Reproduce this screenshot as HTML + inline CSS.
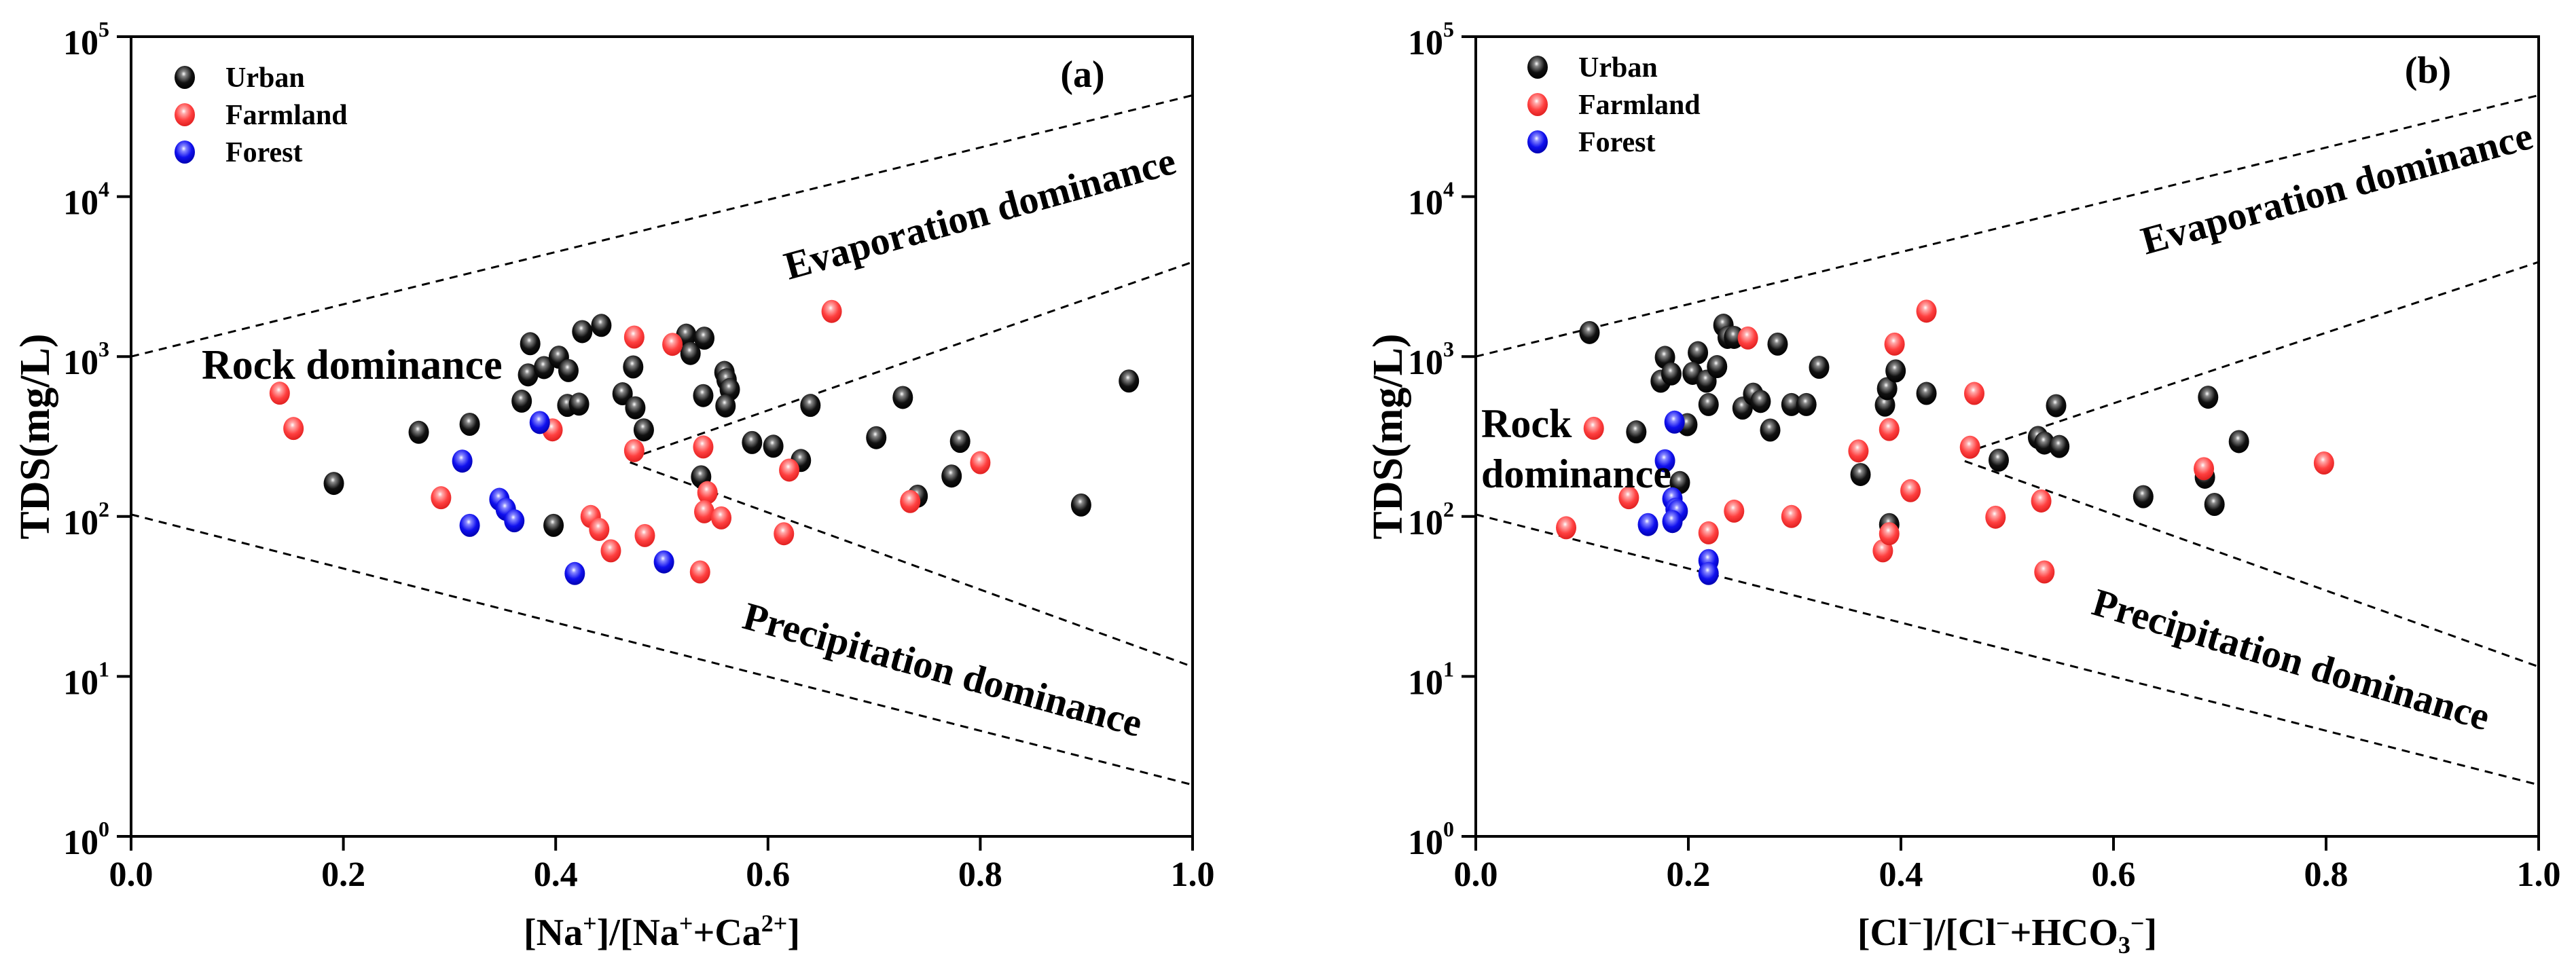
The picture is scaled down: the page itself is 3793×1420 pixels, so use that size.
<!DOCTYPE html>
<html><head><meta charset="utf-8"><style>
html,body{margin:0;padding:0;background:#fff}
svg, svg text, svg tspan{font-family:"Liberation Serif","Times New Roman",Times,"DejaVu Serif",serif !important;font-weight:bold}
</style></head><body>
<svg id="chart" width="3793" height="1415" viewBox="0 0 3793 1415" xmlns="http://www.w3.org/2000/svg" font-family="Liberation Serif, Times New Roman, serif" font-weight="bold">
<defs>
<radialGradient id="gk" cx="0.45" cy="0.35" r="0.65"><stop offset="0" stop-color="#fff"/><stop offset="0.18" stop-color="#888"/><stop offset="0.6" stop-color="#111"/><stop offset="1" stop-color="#000"/></radialGradient>
<radialGradient id="gr" cx="0.45" cy="0.35" r="0.65"><stop offset="0" stop-color="#fff"/><stop offset="0.18" stop-color="#ffaaaa"/><stop offset="0.6" stop-color="#ff4040"/><stop offset="1" stop-color="#e02020"/></radialGradient>
<radialGradient id="gb" cx="0.45" cy="0.35" r="0.65"><stop offset="0" stop-color="#fff"/><stop offset="0.18" stop-color="#8888ff"/><stop offset="0.6" stop-color="#1010ee"/><stop offset="1" stop-color="#0000b0"/></radialGradient>
</defs>
</svg>
<script>
// Panel (a) data: [Na+]/[Na+ + Ca2+] vs TDS
const aUrbanX=[0.191,0.271,0.319,0.368,0.376,0.374,0.389,0.403,0.412,0.425,0.443,0.411,0.422,0.398,0.463,0.473,0.475,0.483,0.523,0.527,0.540,0.539,0.537,0.559,0.561,0.564,0.560,0.585,0.605,0.631,0.640,0.702,0.727,0.741,0.773,0.781,0.895,0.940];
const aUrbanY=[161,336,377,526,1203,768,853,991,817,1432,1566,495,504,88,585,861,478,348,1361,1045,1303,570,177,796,716,622,491,290,275,224,495,311,555,134,179,295,118,703];
const aFarmX=[0.140,0.153,0.292,0.397,0.433,0.441,0.452,0.474,0.474,0.484,0.510,0.539,0.543,0.540,0.556,0.536,0.615,0.620,0.660,0.734,0.800];
const aFarmY=[590,355,131,348,100,83,61,1324,258,76,1192,272,141,107,98,45,78,195,1915,124,217];
const aForestX=[0.385,0.312,0.319,0.347,0.353,0.361,0.418,0.502];
const aForestY=[387,222,88,128,111,94,44,52];
// Panel (b) data: [Cl-]/[Cl- + HCO3-] vs TDS
const bUrbanX=[0.107,0.151,0.178,0.174,0.184,0.199,0.192,0.209,0.204,0.217,0.227,0.219,0.233,0.237,0.243,0.251,0.261,0.268,0.277,0.284,0.297,0.311,0.323,0.362,0.385,0.387,0.389,0.395,0.424,0.492,0.529,0.535,0.546,0.549,0.628,0.686,0.689,0.695,0.718];
const bUrbanY=[1413,338,988,701,779,375,163,1057,785,701,865,501,1570,1318,1318,476,582,524,347,1196,501,501,857,183,497,630,89,813,588,225,312,288,493,274,133,176,557,119,294];
const bFarmX=[0.085,0.111,0.144,0.219,0.243,0.256,0.297,0.360,0.383,0.389,0.389,0.394,0.409,0.424,0.465,0.469,0.489,0.532,0.535,0.685,0.798];
const bFarmY=[85,356,131,79,108,1306,100,257,61,78,350,1196,145,1922,271,588,99,125,45,199,216];
const bForestX=[0.187,0.178,0.162,0.185,0.188,0.190,0.185,0.219,0.219];
const bForestY=[389,223,89,129,111,108,93,53,44];
// Boundary lines (x, TDS)
const upperLine=[[0,1000],[1,43000]];
const lowerLine=[[0,103],[1,2.1]];
const aMidUp=[[0.47,230],[1,3900]];
const aMidDown=[[0.47,218],[1,11.5]];
const bMidUp=[[0.46,250],[1,3900]];
const bMidDown=[[0.46,222],[1,11.5]];
const xTicks=["0.0","0.2","0.4","0.6","0.8","1.0"];
const yExps=[0,1,2,3,4,5];

const NS="http://www.w3.org/2000/svg";
const svg=document.getElementById('chart');
function mk(tag,attrs,parent){const e=document.createElementNS(NS,tag);for(const k in attrs)e.setAttribute(k,attrs[k]);if(tag==='text'){e.setAttribute('font-family','Liberation Serif, Times New Roman, serif');e.setAttribute('font-weight','bold');}(parent||svg).appendChild(e);return e;}

function panel(opt){
  const L=opt.left,R=opt.right,T=54,B=1232;
  const sx=v=>L+(R-L)*v;
  const sy=v=>B-(B-T)*Math.log10(v)/5;
  const g=mk('g',{});
  
  
  opt.lines.forEach((ln,i)=>{
    const l=mk('line',{x1:sx(ln[0][0]),y1:sy(ln[0][1]),x2:sx(ln[1][0]),y2:sy(ln[1][1]),stroke:'#000','stroke-width':3,'stroke-dasharray':'12,9'},g);
    
    
  });
  const f=mk('rect',{x:L,y:T,width:R-L,height:B-T,fill:'none',stroke:'#000','stroke-width':4},g);
  
  
  xTicks.forEach((t,i)=>{
    const x=sx(i/5);
    mk('line',{x1:x,y1:B,x2:x,y2:B+21,stroke:'#000','stroke-width':4},g);
    const tx=mk('text',{x:x,y:1305,'font-size':52,'text-anchor':'middle'},g);
    tx.textContent=t;
    
    
  });
  yExps.forEach(e=>{
    const y=sy(Math.pow(10,e));
    mk('line',{x1:L-21,y1:y,x2:L,y2:y,stroke:'#000','stroke-width':4},g);
    const tx=mk('text',{x:L-100,y:y+26,'font-size':52},g);
    tx.textContent='10';
    const sp=mk('tspan',{dy:-26,'font-size':32},tx);sp.textContent=String(e);
    
    
  });
  const yt=mk('text',{x:0,y:0,'font-size':62,'text-anchor':'middle',transform:`translate(${opt.ytX},643) rotate(-90)`},g);
  yt.textContent='TDS(mg/L)';
  
  
  const xt=mk('text',{x:(L+R)/2,y:1392,'font-size':56,'text-anchor':'middle'},g);
  xt.innerHTML=opt.xTitle;
  
  
  const series=[[opt.urban,'url(#gk)','urban-point'],[opt.farm,'url(#gr)','farmland-point'],[opt.forest,'url(#gb)','forest-point']];
  series.forEach(s=>{
    const xs=s[0][0],ys=s[0][1];
    xs.forEach((v,i)=>{
      const c=mk('ellipse',{cx:sx(v),cy:sy(ys[i]),rx:15,ry:17,fill:s[1]},g);
      
      
    });
  });
  const lg=mk('g',{},g);
  
  
  [['Urban','url(#gk)'],['Farmland','url(#gr)'],['Forest','url(#gb)']].forEach((e,i)=>{
    const y=opt.legY+i*55;
    const m=mk('ellipse',{cx:opt.legX,cy:y,rx:15,ry:17,fill:e[1]},lg);
    
    
    const t=mk('text',{x:opt.legX+60,y:y+14,'font-size':42},lg);
    t.textContent=e[0];
    
    
  });
  const pl=mk('text',{x:opt.labX,y:opt.labY,'font-size':56,'text-anchor':'middle'},g);
  pl.textContent=opt.label;
  
  
  const ev=mk('text',{x:0,y:0,'font-size':58,'text-anchor':'middle',transform:`translate(${opt.evX},${opt.evY}) rotate(-15.4)`},g);
  ev.textContent='Evaporation dominance';
  
  
  const pr=mk('text',{x:0,y:0,'font-size':58,'text-anchor':'middle',transform:`translate(${opt.prX},${opt.prY}) rotate(${opt.prA})`},g);
  pr.textContent='Precipitation dominance';
  
  
  opt.rock.forEach(r=>{
    const t=mk('text',{x:r[0],y:r[1],'font-size':r[3]},g);
    t.textContent=r[2];
    
    
  });
}

panel({name:'panel-a',left:193,right:1756,urban:[aUrbanX,aUrbanY],farm:[aFarmX,aFarmY],forest:[aForestX,aForestY],
  lines:[upperLine,lowerLine,aMidUp,aMidDown],ytX:72,
  xTitle:'[Na<tspan dy="-20" font-size="36">+</tspan><tspan dy="20">]/[Na</tspan><tspan dy="-20" font-size="36">+</tspan><tspan dy="20">+Ca</tspan><tspan dy="-20" font-size="36">2+</tspan><tspan dy="20">]</tspan>',
  legX:272,legY:114,label:'(a)',labX:1594,labY:128,evX:1448,evY:333,prX:1383,prY:1005,prA:15.4,
  rock:[[297,558,'Rock dominance',62]]});
panel({name:'panel-b',left:2173,right:3738,urban:[bUrbanX,bUrbanY],farm:[bFarmX,bFarmY],forest:[bForestX,bForestY],
  lines:[upperLine,lowerLine,bMidUp,bMidDown],ytX:2064,
  xTitle:'[Cl<tspan dy="-20" font-size="36">−</tspan><tspan dy="20">]/[Cl</tspan><tspan dy="-20" font-size="36">−</tspan><tspan dy="20">+HCO</tspan><tspan dy="12" font-size="36">3</tspan><tspan dy="-32" font-size="36">−</tspan><tspan dy="20">]</tspan>',
  legX:2264,legY:99,label:'(b)',labX:3575,labY:122,evX:3446,evY:296,prX:3368,prY:990,prA:16.5,
  rock:[[2181,644,'Rock',60],[2181,718,'dominance',60]]});
</script>
</body></html>
